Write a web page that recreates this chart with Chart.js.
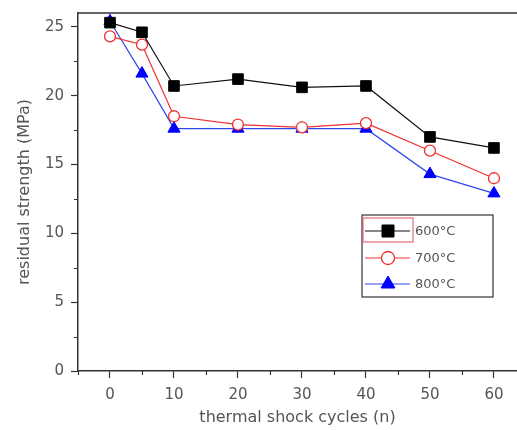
<!DOCTYPE html>
<html>
<head>
<meta charset="utf-8">
<script src="https://cdn.jsdelivr.net/npm/chart.js@4.4.1/dist/chart.umd.min.js"></script>
<style>
  body { margin: 0; background: #fff; }
  canvas { display: block; }
</style>
</head>
<body>
<canvas id="myChart" width="517" height="430"></canvas>
<script>
var cycles = [0, 5, 10, 20, 30, 40, 50, 60];
var s600 = [25.3, 24.6, 20.7, 21.2, 20.6, 20.7, 17.0, 16.2];
var s700 = [24.3, 23.7, 18.5, 17.9, 17.7, 18.0, 16.0, 14.0];
var s800 = [25.4, 21.6, 17.6, 17.6, 17.6, 17.6, 14.3, 12.9];
var seriesNames = ["600°C", "700°C", "800°C"];
var xTickValues = [-5, 0, 5, 10, 15, 20, 25, 30, 35, 40, 45, 50, 55, 60];
var yTickValues = [0, 2.5, 5, 7.5, 10, 12.5, 15, 17.5, 20, 22.5, 25];

function toPoints(ys) {
	return cycles.map(function (c, i) { return { x: c, y: ys[i] }; });
}

var axisFont = { family: "DejaVu Sans", size: 15 };
var titleFont = { family: "DejaVu Sans", size: 16 };

function isMajorX(v) { return v >= 0 && v % 10 === 0; }
function isMajorY(v) { return v % 5 === 0; }

// top border, short minor ticks, legend drawn by hand (line + marker like origin)
var framePlugin = {
	id: 'frame',
	afterDraw: function (chart) {
		var c = chart.ctx, a = chart.chartArea;
		var xs = chart.scales.x, ys = chart.scales.y;
		c.save();
		c.strokeStyle = '#333';
		c.lineWidth = 1.5;
		c.beginPath();
		c.moveTo(a.left, a.top);
		c.lineTo(a.right, a.top);
		c.stroke();

		c.lineWidth = 1.2;
		c.beginPath();
		xTickValues.forEach(function (v) {
			if (isMajorX(v)) return;
			var px = Math.round(xs.getPixelForValue(v)) + 0.5;
			c.moveTo(px, a.bottom);
			c.lineTo(px, a.bottom + 4);
		});
		yTickValues.forEach(function (v) {
			if (isMajorY(v)) return;
			var py = Math.round(ys.getPixelForValue(v)) + 0.5;
			c.moveTo(a.left, py);
			c.lineTo(a.left - 4, py);
		});
		c.stroke();

		// legend
		var bx = 362, by = 215, bw = 131, bh = 82;
		c.lineWidth = 1.3;
		c.strokeStyle = '#444';
		c.strokeRect(bx, by, bw, bh);
		var rows = [231, 258, 284];
		chart.data.datasets.forEach(function (ds, i) {
			var y = rows[i];
			c.strokeStyle = ds.borderColor;
			c.lineWidth = 1.2;
			c.beginPath();
			c.moveTo(bx + 3, y);
			c.lineTo(bx + 48, y);
			c.stroke();
			c.fillStyle = ds.pointBackgroundColor;
			c.strokeStyle = ds.pointBorderColor;
			c.lineWidth = ds.pointBorderWidth;
			c.beginPath();
			var r = ds.pointRadius + 1;
			if (ds.pointStyle === 'circle') {
				c.arc(bx + 26, y, r, 0, Math.PI * 2);
			} else if (ds.pointStyle === 'rect') {
				var h = r * Math.SQRT1_2;
				c.rect(bx + 26 - h, y - h, 2 * h, 2 * h);
			} else {
				c.moveTo(bx + 26, y - r);
				c.lineTo(bx + 26 + r * 0.866, y + r * 0.5);
				c.lineTo(bx + 26 - r * 0.866, y + r * 0.5);
				c.closePath();
			}
			c.fill();
			c.stroke();
			c.fillStyle = '#555';
			c.font = '13px "DejaVu Sans"';
			c.textBaseline = 'middle';
			c.fillText(ds.label, bx + 53, y + 1);
		});
		// selection outline around first item
		c.strokeStyle = '#e05060';
		c.lineWidth = 1;
		c.strokeRect(bx + 1, by + 3, 50, 24);
		c.restore();
	}
};

var ctx = document.getElementById("myChart");
var myChart = new Chart(ctx, {
	type: 'line',
	data: {
		datasets: [
			{
				label: seriesNames[0],
				data: toPoints(s600),
				borderColor: "#111",
				borderWidth: 1.2,
				pointStyle: 'rect',
				pointRadius: 7.5,
				pointBorderWidth: 1,
				pointBackgroundColor: "#000",
				pointBorderColor: "#000"
			},
			{
				label: seriesNames[1],
				data: toPoints(s700),
				borderColor: "#f03030",
				borderWidth: 1.2,
				pointStyle: 'circle',
				pointRadius: 5.5,
				pointBorderWidth: 1.3,
				pointBackgroundColor: "#fff",
				pointBorderColor: "#f03030"
			},
			{
				label: seriesNames[2],
				data: toPoints(s800),
				borderColor: "#3048f0",
				borderWidth: 1.2,
				pointStyle: 'triangle',
				pointRadius: 7,
				pointBorderWidth: 1,
				pointBackgroundColor: "#0000ff",
				pointBorderColor: "#0000ff"
			}
		]
	},
	options: {
		responsive: false,
		maintainAspectRatio: false,
		animation: false,
		layout: { autoPadding: false, padding: { top: 13, right: 0, left: 0, bottom: 0 } },
		plugins: {
			legend: { display: false },
			tooltip: { enabled: false }
		},
		scales: {
			x: {
				type: 'linear',
				min: -5,
				max: 63.6,
				afterBuildTicks: function (scale) {
					scale.ticks = xTickValues.map(function (v) { return { value: v }; });
				},
				afterFit: function (scale) {
					scale.height = 59;
					scale.paddingRight = 0;
					scale.paddingLeft = 0;
				},
				grid: {
					drawOnChartArea: false,
					tickLength: 7,
					tickWidth: 1.2,
					tickColor: function (c) { return (c.tick && isMajorX(c.tick.value)) ? '#333' : 'rgba(0,0,0,0)'; }
				},
				border: { display: true, color: '#333', width: 1.5 },
				ticks: {
					color: '#555',
					font: axisFont,
					padding: 8,
					maxRotation: 0,
					autoSkip: false,
					callback: function (v) { return isMajorX(v) ? v : ''; }
				},
				title: { display: true, text: 'thermal shock cycles (n)', color: '#555', font: titleFont, padding: { top: 0, bottom: 3 } }
			},
			y: {
				min: 0,
				max: 26,
				afterBuildTicks: function (scale) {
					scale.ticks = yTickValues.map(function (v) { return { value: v }; });
				},
				afterFit: function (scale) {
					scale.width = 78;
					scale.paddingTop = 0;
					scale.paddingBottom = 0;
				},
				grid: {
					drawOnChartArea: false,
					tickLength: 7,
					tickWidth: 1.2,
					tickColor: function (c) { return (c.tick && isMajorY(c.tick.value)) ? '#333' : 'rgba(0,0,0,0)'; }
				},
				border: { display: true, color: '#333', width: 1.5 },
				ticks: {
					color: '#555',
					font: axisFont,
					padding: 7,
					autoSkip: false,
					callback: function (v) { return isMajorY(v) ? v : ''; }
				},
				title: { display: true, text: 'residual strength (MPa)', color: '#555', font: titleFont, padding: { top: 15, bottom: 0 } }
			}
		}
	},
	plugins: [framePlugin]
});
</script>
</body>
</html>
